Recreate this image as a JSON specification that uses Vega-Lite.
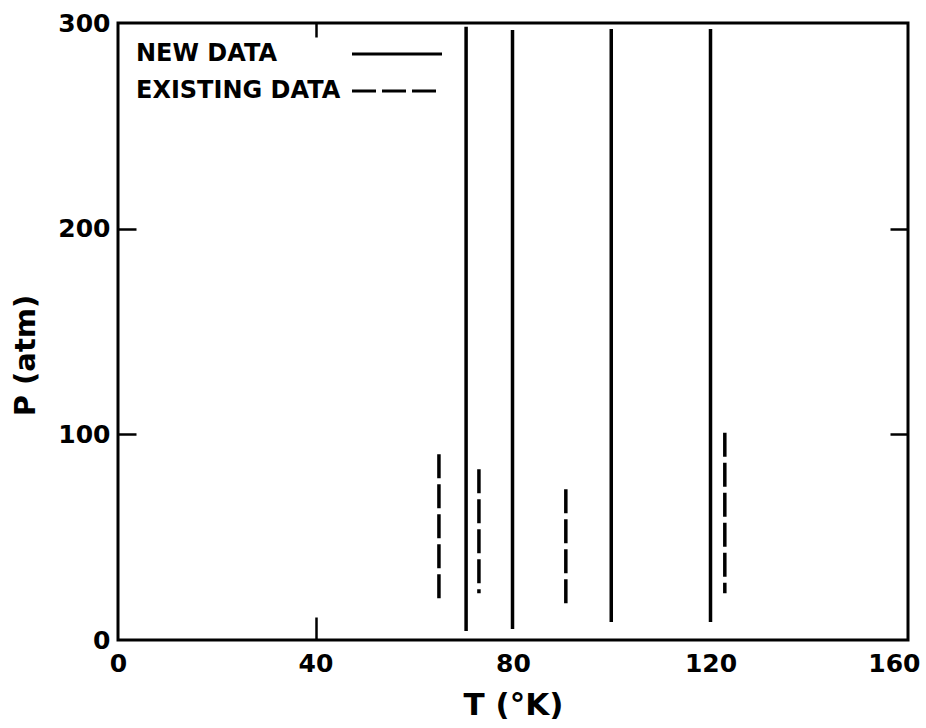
{
  "$schema": "https://vega.github.io/schema/vega-lite/v6.json",
  "width": 790,
  "height": 617,
  "autosize": {"type": "none"},
  "padding": {"left": 118, "top": 23, "right": 18, "bottom": 88},
  "background": "white",
  "config": {
    "view": {"stroke": "black", "strokeWidth": 3},
    "font": "DejaVu Sans",
    "axis": {
      "grid": false,
      "domain": false,
      "tickColor": "black",
      "tickWidth": 2.5,
      "labelColor": "black",
      "labelFont": "DejaVu Sans",
      "labelFontWeight": "bold",
      "labelFontSize": 25,
      "labelFlush": false,
      "labelOverlap": false,
      "titleColor": "black",
      "titleFont": "DejaVu Sans",
      "titleFontWeight": "bold",
      "titleFontSize": 31
    }
  },
  "data": {
    "values": [
      {"T": 70.5, "Pmin": 4.4, "Pmax": 298.2, "type": "NEW DATA"},
      {"T": 79.9, "Pmin": 5.3, "Pmax": 296.6, "type": "NEW DATA"},
      {"T": 99.9, "Pmin": 8.7, "Pmax": 297.1, "type": "NEW DATA"},
      {"T": 120.0, "Pmin": 8.7, "Pmax": 297.1, "type": "NEW DATA"},
      {"T": 65.0, "Pmin": 18.1, "Pmax": 90.3, "type": "EXISTING DATA"},
      {"T": 73.1, "Pmin": 22.7, "Pmax": 83.0, "type": "EXISTING DATA"},
      {"T": 90.7, "Pmin": 17.0, "Pmax": 73.3, "type": "EXISTING DATA"},
      {"T": 122.9, "Pmin": 22.7, "Pmax": 100.8, "type": "EXISTING DATA"}
    ]
  },
  "layer": [
    {
      "transform": [{"filter": "datum.type == 'NEW DATA'"}],
      "mark": {"type": "rule", "color": "black", "strokeWidth": 3.5},
      "encoding": {
        "x": {
          "field": "T", "type": "quantitative",
          "scale": {"domain": [0, 160], "nice": false, "zero": false},
          "axis": {
            "orient": "bottom",
            "title": "T (°K)",
            "values": [0, 40, 80, 120, 160],
            "tickSize": -23,
            "tickOpacity": {"condition": {"test": "datum.value == 40", "value": 1}, "value": 0},
            "labelAlign": {"condition": {"test": "datum.value == 160", "value": "right"}, "value": "center"},
            "labelOffset": {"condition": {"test": "datum.value == 160", "value": 12}, "value": 0},
            "labelPadding": 34,
            "titlePadding": 14
          }
        },
        "y": {
          "field": "Pmax", "type": "quantitative",
          "scale": {"domain": [0, 300], "nice": false, "zero": false},
          "axis": {
            "orient": "left",
            "title": "P (atm)",
            "values": [0, 100, 200, 300],
            "tickSize": -18,
            "tickOpacity": {"condition": {"test": "datum.value == 100 || datum.value == 200", "value": 1}, "value": 0},
            "labelPadding": 26,
            "titleFontSize": 29,
            "titlePadding": 17,
            "titleY": 332
          }
        },
        "y2": {"field": "Pmin"},
        "strokeDash": {
          "field": "type", "type": "nominal",
          "scale": {"domain": ["NEW DATA", "EXISTING DATA"], "range": [[1, 0], [24, 6]]},
          "legend": {
            "orient": "none",
            "legendX": 18,
            "legendY": 19,
            "title": null,
            "padding": 0,
            "symbolType": "M-4.5,0H4.5",
            "symbolSize": 400,
            "symbolStrokeWidth": 3,
            "symbolStrokeColor": "black",
            "symbolFillColor": "transparent",
            "symbolOffset": 249,
            "labelOffset": -273,
            "labelFont": "DejaVu Sans",
            "labelFontWeight": "bold",
            "labelFontSize": 24,
            "labelColor": "black",
            "rowPadding": 13,
            "labelLimit": 400
          }
        }
      }
    },
    {
      "transform": [{"filter": "datum.type == 'EXISTING DATA'"}],
      "mark": {"type": "rule", "color": "black", "strokeWidth": 3.5},
      "encoding": {
        "x": {
          "field": "T", "type": "quantitative",
          "axis": {
            "orient": "top",
            "title": null,
            "labels": false,
            "values": [40],
            "tickSize": -14
          }
        },
        "y": {
          "field": "Pmax", "type": "quantitative",
          "axis": {
            "orient": "right",
            "title": null,
            "labels": false,
            "values": [100, 200],
            "tickSize": -18
          }
        },
        "y2": {"field": "Pmin"},
        "strokeDash": {"field": "type", "type": "nominal"}
      }
    }
  ],
  "resolve": {"axis": {"x": "independent", "y": "independent"}}
}
